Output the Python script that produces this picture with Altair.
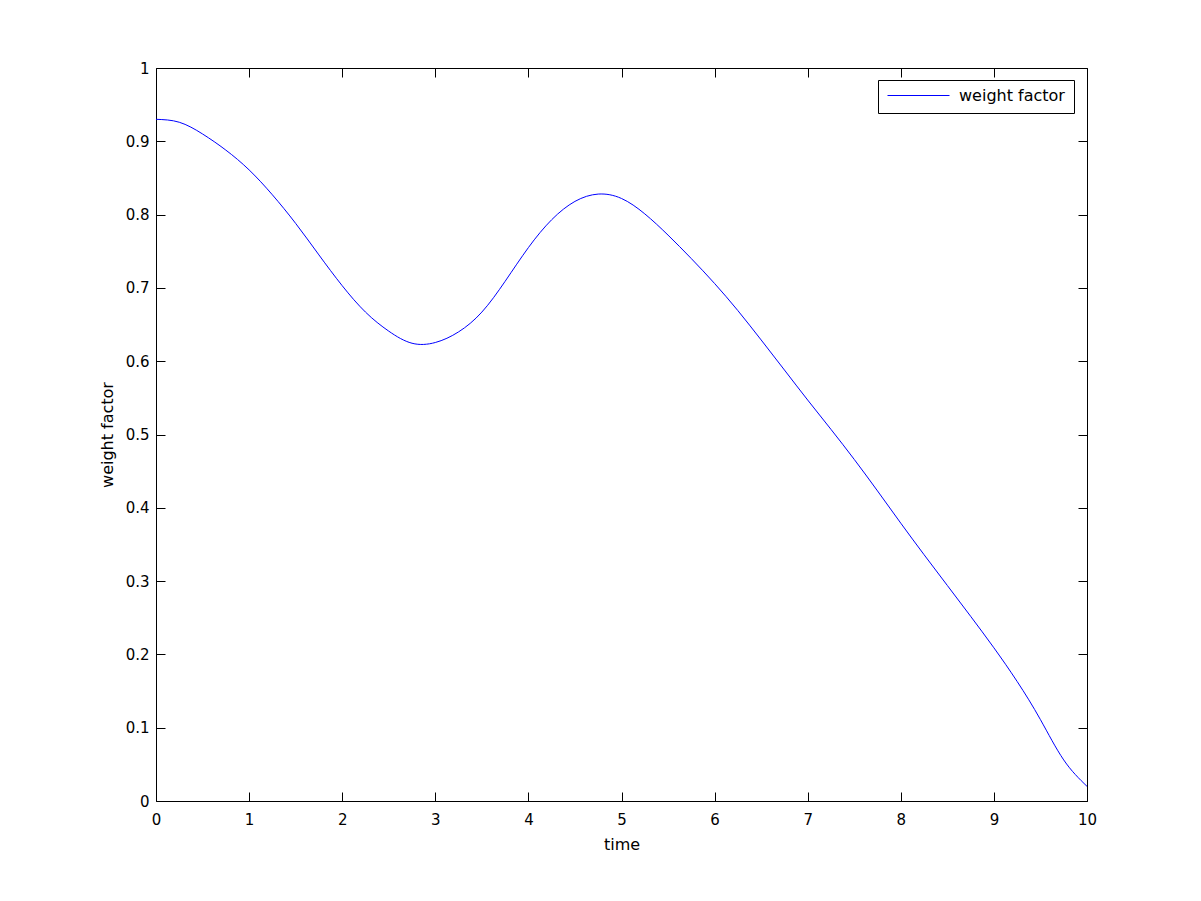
import altair as alt
import pandas as pd

# ---- data ----
time = [0, 0.25, 0.5, 0.75, 1, 1.25, 1.5, 1.75, 2, 2.25, 2.5, 2.75, 3, 3.25, 3.5,
        3.75, 4, 4.25, 4.5, 4.75, 5, 5.25, 5.5, 5.75, 6, 6.25, 6.5, 6.75, 7,
        7.25, 7.5, 7.75, 8, 8.25, 8.5, 8.75, 9, 9.25, 9.5, 9.75, 10]
weight = [0.930, 0.926, 0.910, 0.888, 0.861, 0.827, 0.788, 0.745, 0.703, 0.667,
          0.641, 0.6245, 0.6255, 0.640, 0.667, 0.709, 0.755, 0.793, 0.818, 0.828,
          0.822, 0.801, 0.772, 0.740, 0.706, 0.669, 0.629, 0.588, 0.547, 0.507,
          0.466, 0.423, 0.379, 0.336, 0.294, 0.252, 0.209, 0.163, 0.111, 0.056,
          0.020]
series_name = "weight factor"
x_ticks = [0, 1, 2, 3, 4, 5, 6, 7, 8, 9, 10]
y_ticks = [0, 0.1, 0.2, 0.3, 0.4, 0.5, 0.6, 0.7, 0.8, 0.9, 1]

df = pd.DataFrame({"time": time, "weight": weight, "series": [series_name] * len(time)})

W, H = 931, 733
FONT = "DejaVu Sans"
TICK = 9

xscale = alt.Scale(domain=[0, 10], nice=False, zero=False)
yscale = alt.Scale(domain=[0, 1], nice=False, zero=False)

# main line with labelled axes (no ticks)
main = alt.Chart(df).mark_line(color="#0000ff", strokeWidth=1, interpolate="natural").encode(
    x=alt.X("time:Q", scale=xscale,
            axis=alt.Axis(orient="bottom", values=x_ticks, format="d", ticks=False, domain=False,
                          grid=False, labelPadding=11, labelFontSize=15, labelFont=FONT,
                          labelColor="black", title="time", titleFont=FONT, titleFontSize=16,
                          titleFontWeight="normal", titleColor="black", titleBaseline="top",
                          titleX=W / 2, titleY=35, labelFlush=False)),
    y=alt.Y("weight:Q", scale=yscale,
            axis=alt.Axis(orient="left", values=y_ticks, format="~g", ticks=False, domain=False,
                          grid=False, labelPadding=7, labelFontSize=15, labelFont=FONT,
                          labelColor="black", title="weight factor", titleFont=FONT,
                          titleFontSize=16, titleFontWeight="normal", titleColor="black",
                          titleBaseline="top", titleAngle=270, titleX=-57, titleY=H / 2,
                          labelFlush=False)),
    color=alt.Color("series:N",
                    scale=alt.Scale(domain=[series_name], range=["#0000ff"]),
                    legend=alt.Legend(title=None, orient="none", legendX=722, legendY=12,
                                      symbolType="stroke", symbolSize=3844, symbolStrokeWidth=1,
                                      clipHeight=13, padding=9, labelOffset=9,
                                      labelFont=FONT, labelFontSize=16, labelColor="black",
                                      strokeColor="black", fillColor="white",
                                      cornerRadius=0)),
)


def tick_layer(xorient, yorient):
    return alt.Chart(df).mark_line(opacity=0).encode(
        x=alt.X("time:Q", scale=xscale,
                axis=alt.Axis(orient=xorient, values=x_ticks, labels=False, domain=False,
                              grid=False, ticks=True, tickSize=TICK, offset=-TICK,
                              tickColor="black", tickWidth=1, title=None)),
        y=alt.Y("weight:Q", scale=yscale,
                axis=alt.Axis(orient=yorient, values=y_ticks, labels=False, domain=False,
                              grid=False, ticks=True, tickSize=TICK, offset=-TICK,
                              tickColor="black", tickWidth=1, title=None)),
    )


chart = alt.layer(main, tick_layer("bottom", "left"), tick_layer("top", "right")).resolve_axis(
    x="independent", y="independent"
).properties(
    width=W, height=H,
    autosize=alt.AutoSizeParams(type="none"),
    padding={"left": 148, "top": 60, "right": 14, "bottom": 92},
    background="white",
).configure_view(stroke="black", strokeWidth=1)

chart.save("out.html", embed_options={"renderer": "svg", "actions": False})
